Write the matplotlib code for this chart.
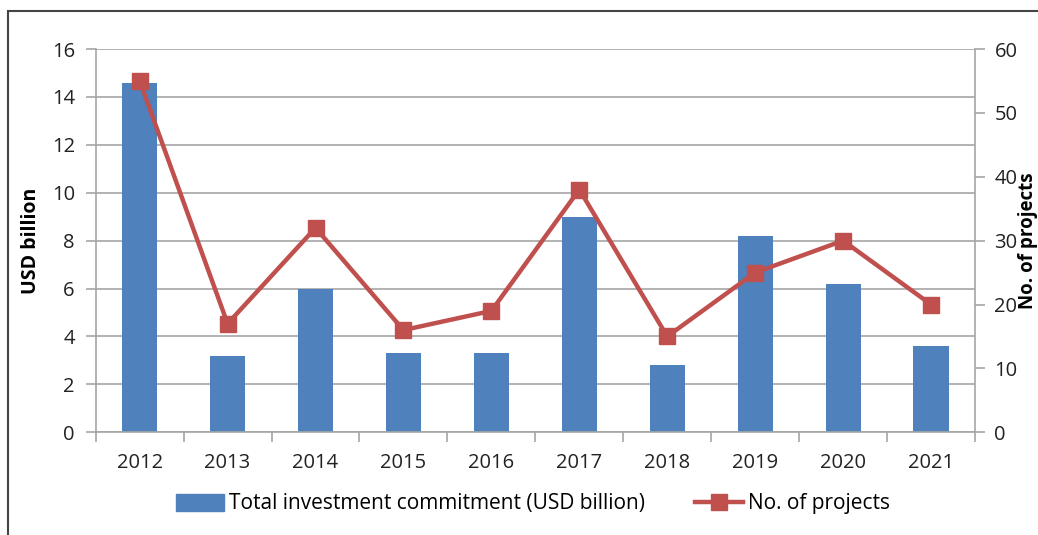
import matplotlib.pyplot as plt
import matplotlib.patches as mpatches
import numpy as np

plt.rcParams['font.family'] = ['Open Sans', 'DejaVu Sans']

years = ['2012', '2013', '2014', '2015', '2016', '2017', '2018', '2019', '2020', '2021']
investment = [14.6, 3.2, 6.0, 3.3, 3.3, 9.0, 2.8, 8.2, 6.2, 3.6]
projects = [55, 17, 32, 16, 19, 38, 15, 25, 30, 20]

bar_color = '#4F81BD'
line_color = '#C0504D'
grid_color = '#A6A6A6'

fig = plt.figure(figsize=(10.38, 5.35), dpi=100)
ax = fig.add_axes([0.0922, 0.192, 0.8471, 0.7164])
x = np.arange(len(years))

ax.bar(x, investment, width=0.4, color=bar_color, zorder=2,
       label='Total investment commitment (USD billion)')
ax.set_xlim(-0.5, len(years) - 0.5)
ax.set_ylim(0, 16)
ax.set_yticks(np.arange(0, 17, 2))
ax.yaxis.grid(True, color=grid_color, linewidth=1.2, zorder=0)
ax.set_axisbelow(True)

ax.set_xticks(x)
ax.set_xticklabels(years)
ax.set_xticks(np.arange(-0.5, len(years)), minor=True)
ax.tick_params(axis='x', which='major', length=0, pad=15, labelsize=14.5, colors='#222222')
ax.tick_params(axis='x', which='minor', length=7, width=1.2, color=grid_color)
ax.tick_params(axis='y', length=7, width=1.2, color=grid_color, labelsize=14.5,
               labelcolor='#222222', pad=8)
for s in ['left', 'bottom']:
    ax.spines[s].set_color(grid_color)
    ax.spines[s].set_linewidth(1.2)
ax.spines['top'].set_visible(False)
ax.spines['right'].set_visible(False)
ax.set_ylabel('USD billion', fontsize=14, fontweight='bold', labelpad=8)

ax2 = ax.twinx()
line, = ax2.plot(x, projects, color=line_color, linewidth=3.2, marker='s',
                 markersize=11, label='No. of projects', zorder=3)
ax2.set_ylim(0, 60)
ax2.set_yticks(np.arange(0, 61, 10))
ax2.tick_params(axis='y', length=7, width=1.2, color=grid_color, labelsize=14.5,
                labelcolor='#222222', pad=7)
ax2.spines['right'].set_color(grid_color)
ax2.spines['right'].set_linewidth(1.2)
for s in ['top', 'left', 'bottom']:
    ax2.spines[s].set_visible(False)
ax2.set_ylabel('No. of projects', fontsize=13.5, fontweight='bold', labelpad=0)

handles = [mpatches.Patch(color=bar_color), line]
fig.legend(handles, ['Total investment commitment (USD billion)', 'No. of projects'],
           loc='center', bbox_to_anchor=(0.5135, 0.058), ncol=2, frameon=False,
           fontsize=15, handlelength=2.3, handleheight=0.9, handletextpad=0.25,
           columnspacing=2.4)

border = mpatches.Rectangle((8 / 1038, -0.1), 1.2, 1 - 11 / 535 + 0.1,
                            transform=fig.transFigure, fill=False,
                            edgecolor='#444444', linewidth=1.5)
fig.patches.append(border)

fig.savefig('out.png', dpi=100)
